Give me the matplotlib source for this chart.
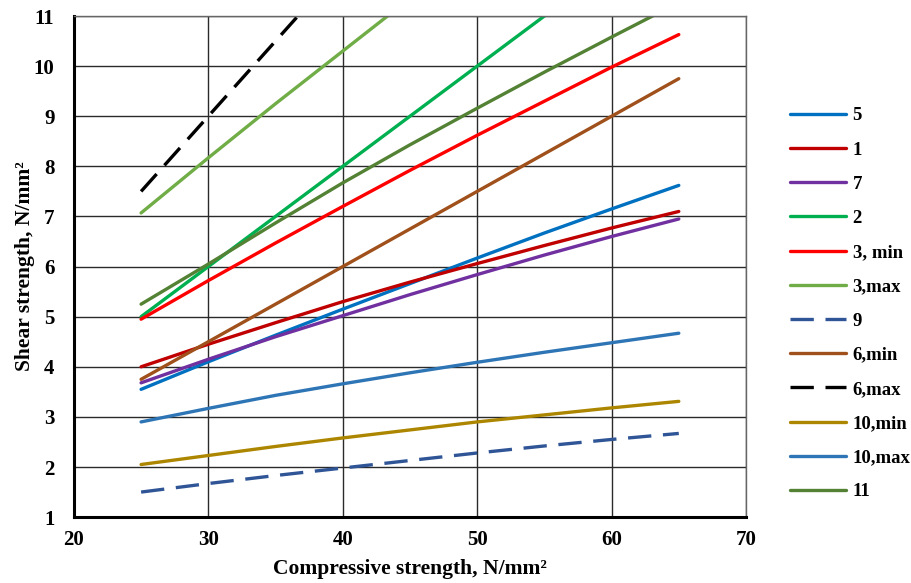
import numpy as np
import matplotlib
matplotlib.use("Agg")
import matplotlib.pyplot as plt

plt.rcParams["font.family"] = ["Liberation Serif", "DejaVu Serif"]
plt.rcParams["font.weight"] = "bold"

# compressive strength (x) sampled every 5 N/mm2
fc = [25, 30, 35, 40, 45, 50, 55, 60, 65]

s5 = [3.55, 4.10, 4.63, 5.15, 5.66, 6.17, 6.67, 7.15, 7.62]
s1 = [4.00, 4.45, 4.88, 5.30, 5.69, 6.06, 6.42, 6.77, 7.10]
s7 = [3.68, 4.15, 4.60, 5.02, 5.44, 5.84, 6.23, 6.60, 6.95]
s2 = [5.00, 6.00, 7.00, 8.00, 9.00, 10.00, 11.00, 12.00, 13.00]
s3min = [4.95, 5.72, 6.47, 7.20, 7.92, 8.62, 9.30, 9.98, 10.63]
s3max = [7.07, 8.17, 9.25, 10.30, 11.35]
s9 = [1.50, 1.67, 1.83, 1.98, 2.13, 2.28, 2.42, 2.55, 2.67]
s6min = [3.75, 4.50, 5.25, 6.00, 6.75, 7.50, 8.25, 9.00, 9.75]
s6max = [7.50, 9.00, 10.50, 12.00]
s10min = [2.05, 2.23, 2.41, 2.58, 2.74, 2.90, 3.04, 3.18, 3.31]
s10max = [2.90, 3.17, 3.43, 3.66, 3.88, 4.09, 4.29, 4.48, 4.67]
s11 = [5.25, 6.05, 6.87, 7.67, 8.43, 9.16, 9.88, 10.58, 11.27]

series = [
    ("5", s5, "#0070C0", "-"),
    ("1", s1, "#C00000", "-"),
    ("7", s7, "#7030A0", "-"),
    ("2", s2, "#00B050", "-"),
    ("3, min", s3min, "#FF0000", "-"),
    ("3,max", s3max, "#70AD47", "-"),
    ("9", s9, "#2F5597", "--"),
    ("6,min", s6min, "#A0501A", "-"),
    ("6,max", s6max, "#000000", "--"),
    ("10,min", s10min, "#AD8600", "-"),
    ("10,max", s10max, "#2E75B6", "-"),
    ("11", s11, "#548235", "-"),
]

fig = plt.figure(figsize=(9.12, 5.83), dpi=100)
ax = fig.add_axes([0.081, 0.113, 0.737, 0.8595])

for name, vals, col, ls in series:
    line, = ax.plot(fc[:len(vals)], vals, color=col, lw=2.4, ls=ls,
                    label=name, solid_capstyle="round")
    if ls == "--":
        line.set_dashes((7, 3.5))

ax.set_xlim(20, 70)
ax.set_ylim(1, 11)
ax.set_xticks(np.arange(20, 71, 10))
ax.set_yticks(np.arange(1, 12, 1))
ax.grid(True, color="#2a2a2a", lw=1)
ax.set_axisbelow(True)
ax.tick_params(length=0, labelsize=15)
ax.tick_params(axis="y", pad=14)
ax.tick_params(axis="x", pad=9)
for t in ax.get_xticklabels() + ax.get_yticklabels():
    t.set_fontweight("bold")

for sp in ("left", "bottom"):
    ax.spines[sp].set_linewidth(2.2)
    ax.spines[sp].set_color("black")
for sp in ("top", "right"):
    ax.spines[sp].set_linewidth(1)
    ax.spines[sp].set_color("#666666")

ax.set_xlabel("Compressive strength, N/mm²", fontsize=15.5, fontweight="bold", labelpad=7)
ax.set_ylabel("Shear strength, N/mm²", fontsize=15.5, fontweight="bold", labelpad=-1)

fig.legend(loc="upper left", bbox_to_anchor=(0.866, 0.816), frameon=False,
           handlelength=3.0, handletextpad=0.35,
           labelspacing=0.91, borderpad=0, borderaxespad=0,
           prop={"weight": "bold", "size": 13.5})

fig.savefig("out.png", dpi=100)
